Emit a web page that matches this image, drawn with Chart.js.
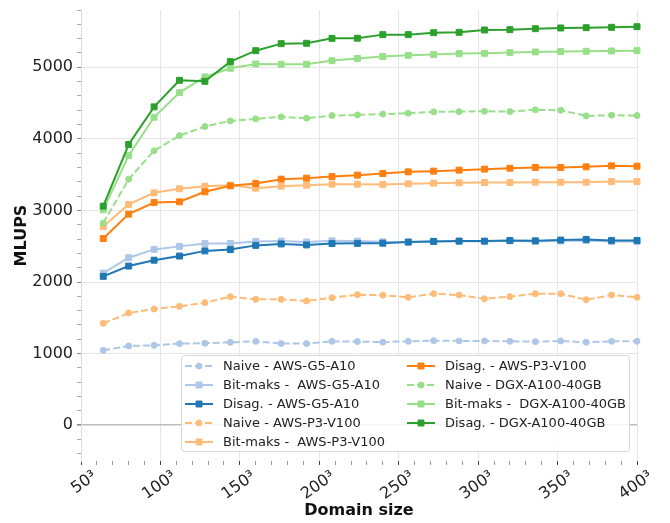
<!DOCTYPE html>
<html>
<head>
<meta charset="utf-8">
<script src="https://cdn.jsdelivr.net/npm/chart.js@4.4.1/dist/chart.umd.min.js"></script>
<style>
  body { margin: 0; background: #fff; }
  #wrap { width: 670px; height: 523px; }
</style>
</head>
<body>
<div id="wrap"><canvas id="chart"></canvas></div>
<script>
// domain edge length n, plotted as n^3
const domainSizes = [64, 80, 96, 112, 128, 144, 160, 176, 192, 208, 224, 240, 256, 272, 288, 304, 320, 336, 352, 368, 384, 400];

const g5Naive = [1046, 1107, 1116, 1140, 1144, 1158, 1172, 1140, 1140, 1172, 1168, 1160, 1172, 1181, 1177, 1177, 1172, 1167, 1177, 1158, 1172, 1172];
const g5Bit = [2125, 2340, 2456, 2498, 2539, 2539, 2567, 2572, 2558, 2576, 2572, 2562, 2560, 2570, 2570, 2565, 2575, 2565, 2575, 2580, 2565, 2565];
const g5Disag = [2079, 2223, 2305, 2363, 2435, 2453, 2512, 2532, 2518, 2537, 2540, 2542, 2558, 2567, 2572, 2572, 2581, 2576, 2586, 2595, 2581, 2581];
const p3Naive = [1423, 1567, 1623, 1660, 1712, 1796, 1758, 1758, 1735, 1781, 1823, 1816, 1786, 1837, 1818, 1767, 1796, 1837, 1837, 1753, 1818, 1786];
const p3Bit = [2777, 3084, 3246, 3302, 3339, 3353, 3311, 3339, 3353, 3367, 3367, 3362, 3372, 3381, 3386, 3390, 3390, 3395, 3395, 3395, 3404, 3404];
const p3Disag = [2607, 2949, 3111, 3121, 3260, 3344, 3377, 3437, 3451, 3474, 3493, 3516, 3539, 3549, 3563, 3577, 3590, 3600, 3600, 3609, 3623, 3618];
const dgxNaive = [2823, 3437, 3833, 4046, 4172, 4251, 4279, 4307, 4288, 4325, 4335, 4346, 4358, 4377, 4381, 4386, 4381, 4405, 4400, 4321, 4330, 4325];
const dgxBit = [3009, 3767, 4302, 4646, 4865, 4986, 5046, 5042, 5042, 5093, 5123, 5149, 5167, 5177, 5191, 5195, 5205, 5214, 5219, 5223, 5228, 5232];
const dgxDisag = [3060, 3921, 4447, 4818, 4804, 5079, 5232, 5330, 5335, 5404, 5406, 5456, 5456, 5483, 5488, 5521, 5525, 5539, 5549, 5553, 5558, 5567];

const seriesLabels = [
  `Naive - AWS-G5-A10`, `Bit-maks -  AWS-G5-A10`, `Disag. - AWS-G5-A10`,
  `Naive - AWS-P3-V100`, `Bit-maks -  AWS-P3-V100`, `Disag. - AWS-P3-V100`,
  `Naive - DGX-A100-40GB`, `Bit-maks -  DGX-A100-40GB`, `Disag. - DGX-A100-40GB`,
];
const seriesValues = [g5Naive, g5Bit, g5Disag, p3Naive, p3Bit, p3Disag, dgxNaive, dgxBit, dgxDisag];
const seriesColors = [`#aec7e8`, `#aec7e8`, `#1f77b4`, `#ffbb78`, `#ffbb78`, `#ff7f0e`, `#98df8a`, `#98df8a`, `#2ca02c`];

const xMajorTicks = [50, 100, 150, 200, 250, 300, 350, 400];
const yMajorTicks = [0, 1000, 2000, 3000, 4000, 5000];

const FONT = `'DejaVu Sans', sans-serif`;

const makeDataset = (values, i) => {
  const naive = i % 3 === 0;
  return {
    label: seriesLabels[i],
    data: values.map((v, k) => ({x: domainSizes[k], y: v})),
    borderColor: seriesColors[i],
    backgroundColor: seriesColors[i],
    borderWidth: 2,
    borderDash: naive ? [7, 3] : [],
    pointStyle: naive ? `circle` : `rect`,
    pointRadius: naive ? 3 : 4.2,
    pointBorderWidth: 1,
    tension: 0,
    clip: false,
    order: 20 - i, // later series on top
  };
};

// x minor ticks every 10, y minor ticks every 200
const xAllTicks = [];
for (let v = 50; v <= 400; v += 10) {
  xAllTicks.push(v);
}
const yAllTicks = [];
for (let v = -400; v <= 5800; v += 200) {
  yAllTicks.push(v);
}

const legendPlugin = {
  id: `boxLegend`,
  afterDatasetsDraw(chart) {
    const ctx = chart.ctx;
    ctx.save();
    ctx.beginPath();
    ctx.roundRect(181.5, 355.5, 448, 96, 3);
    ctx.fillStyle = `rgba(255,255,255,0.85)`;
    ctx.fill();
    ctx.strokeStyle = `#d8d8d8`;
    ctx.lineWidth = 1;
    ctx.stroke();

    ctx.font = `13px ${FONT}`;
    ctx.textBaseline = `middle`;
    chart.data.datasets.forEach((ds, i) => {
      const col = i < 5 ? 0 : 1;
      const row = i < 5 ? i : i - 5;
      const x0 = col ? 407 : 185;
      const y = 366 + row * 19;
      ctx.strokeStyle = ds.borderColor;
      ctx.fillStyle = ds.borderColor;
      ctx.lineWidth = 2;
      ctx.setLineDash(ds.borderDash);
      ctx.beginPath();
      ctx.moveTo(x0, y);
      ctx.lineTo(x0 + 28, y);
      ctx.stroke();
      ctx.setLineDash([]);
      ctx.lineWidth = 1;
      Chart.helpers.drawPoint(ctx, {pointStyle: ds.pointStyle, radius: ds.pointRadius, borderWidth: 1, rotation: 0}, x0 + 14, y);
      ctx.fillStyle = `#222`;
      ctx.fillText(ds.label, x0 + 38, y + 1);
    });
    ctx.restore();
  }
};

const chart = new Chart(document.getElementById(`chart`), {
  type: `line`,
  data: {
    datasets: seriesValues.map(makeDataset),
  },
  plugins: [legendPlugin],
  options: {
    responsive: true,
    maintainAspectRatio: false,
    animation: false,
    layout: {padding: {top: 10, right: 33, left: 0, bottom: 0}},
    plugins: {
      legend: {display: false},
      tooltip: {enabled: false},
    },
    scales: {
      x: {
        type: `linear`,
        min: 50,
        max: 400,
        afterBuildTicks: (scale) => {
          scale.ticks = xAllTicks.map((v) => ({value: v}));
        },
        afterFit: (scale) => {
          scale.height = 62;
        },
        ticks: {
          autoSkip: false,
          minRotation: 35,
          maxRotation: 35,
          padding: 2,
          labelOffset: 14,
          color: `#222`,
          font: {family: FONT, size: 16},
          callback: (v) => xMajorTicks.includes(v) ? `${v}³` : ``,
        },
        grid: {
          color: (c) => xMajorTicks.includes(c.tick.value) ? `#e6e6e6` : `rgba(0,0,0,0)`,
          tickColor: (c) => xMajorTicks.includes(c.tick.value) ? `#444` : `#999`,
          tickLength: 4,
          lineWidth: 1,
        },
        border: {display: false},
        title: {
          display: true,
          text: `Domain size`,
          color: `#111`,
          font: {family: FONT, size: 16, weight: `bold`},
          padding: {top: 0, bottom: 3},
        },
      },
      y: {
        min: -500,
        max: 5800,
        afterBuildTicks: (scale) => {
          scale.ticks = yAllTicks.map((v) => ({value: v}));
        },
        afterFit: (scale) => {
          scale.width = 81;
        },
        ticks: {
          autoSkip: false,
          padding: 4,
          color: `#222`,
          font: {family: FONT, size: 16, lineHeight: 0.7},
          callback: (v) => yMajorTicks.includes(v) ? `${v}` : ``,
        },
        grid: {
          color: (c) => {
            if (c.tick.value === 0) {
              return `#bdbdbd`;
            }
            return yMajorTicks.includes(c.tick.value) ? `#e6e6e6` : `rgba(0,0,0,0)`;
          },
          lineWidth: (c) => c.tick.value === 0 ? 1.6 : 1,
          tickColor: (c) => yMajorTicks.includes(c.tick.value) ? `#888` : `#aaa`,
          tickLength: 4,
        },
        border: {display: true, color: `#dddddd`, width: 1},
        title: {
          display: true,
          text: `MLUPS`,
          color: `#111`,
          font: {family: FONT, size: 16, weight: `bold`},
          padding: {top: 12, bottom: 0},
        },
      },
    },
  },
});
</script>
</body>
</html>
